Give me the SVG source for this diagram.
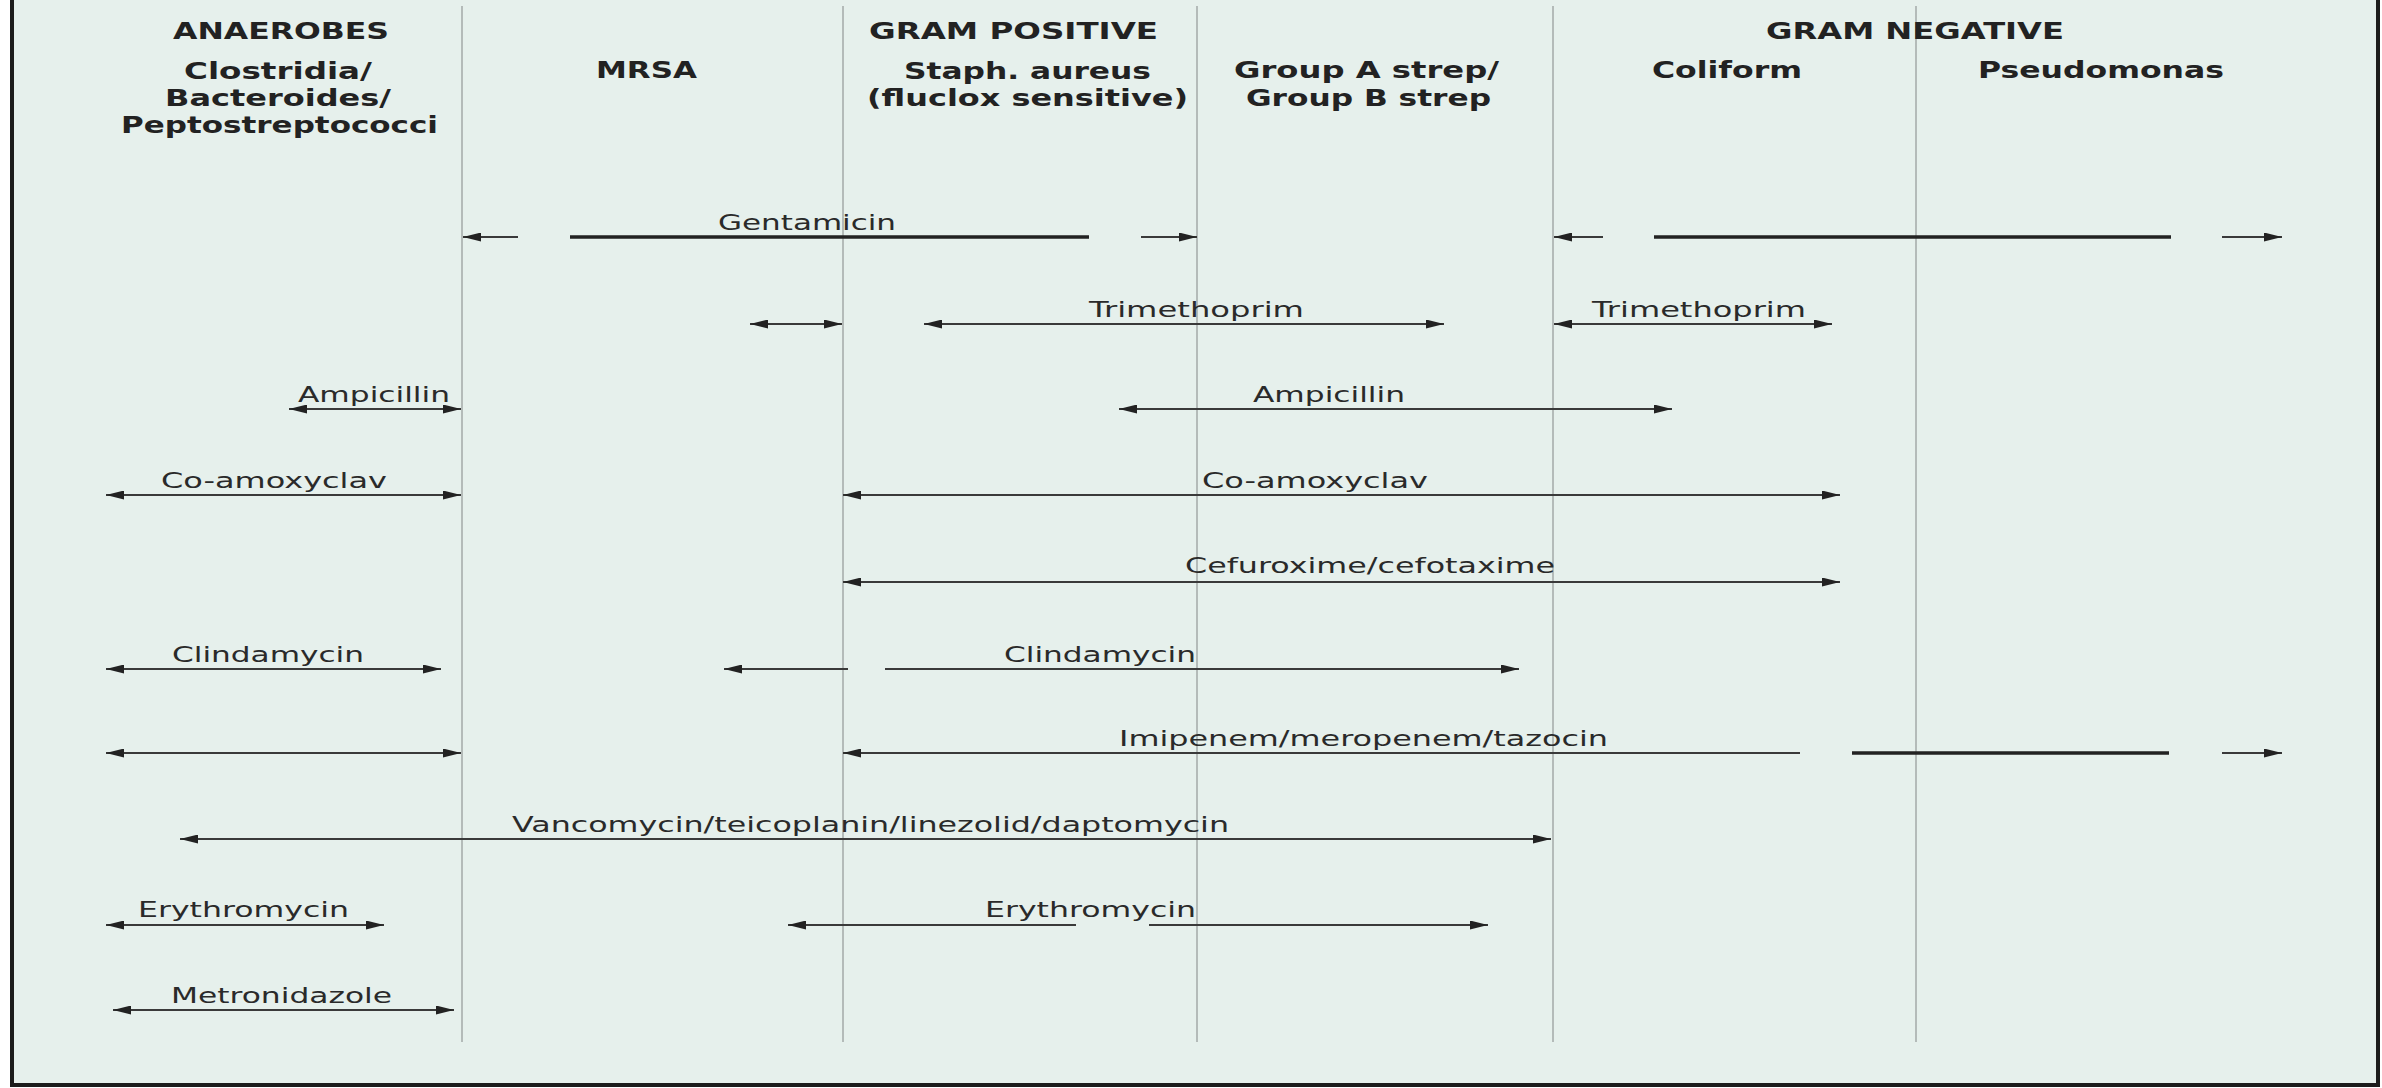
<svg xmlns="http://www.w3.org/2000/svg" width="2382" height="1088" viewBox="0 0 2382 1088">
<defs>
<marker id="ah" markerUnits="userSpaceOnUse" markerWidth="18" markerHeight="9" refX="18" refY="4.5" orient="auto-start-reverse" viewBox="0 0 18 9"><path d="M0,0 L18,4.5 L0,9 Z" fill="#222"/></marker>
</defs>
<style>
.bg{fill:#E6F0EC;stroke:#1c1c1c;stroke-width:4}
.grid{stroke:#a3aaa8;stroke-width:1.5}
.h{font-family:"DejaVu Sans",Verdana,sans-serif;font-weight:bold;font-size:23px;fill:#222}
.t{font-family:"DejaVu Sans",Verdana,sans-serif;font-size:22px;fill:#2a2a2a}
.ln{stroke:#3a3a3a;stroke-width:2;fill:none}
.thick{stroke:#222;stroke-width:3.5}
</style>
<rect x="0" y="0" width="2382" height="1088" fill="#ffffff"/>
<rect class="bg" x="12" y="-10" width="2366" height="1095"/>
<g id="gridlines">
<line class="grid" x1="462" y1="6" x2="462" y2="1042"/>
<line class="grid" x1="843" y1="6" x2="843" y2="1042"/>
<line class="grid" x1="1197" y1="6" x2="1197" y2="1042"/>
<line class="grid" x1="1553" y1="6" x2="1553" y2="1042"/>
<line class="grid" x1="1916" y1="6" x2="1916" y2="1042"/>
</g>
<g id="hdr-anaerobes">
<text class="h" x="173" y="39" textLength="216" lengthAdjust="spacingAndGlyphs">ANAEROBES</text>
<text class="h" x="184" y="79" textLength="188" lengthAdjust="spacingAndGlyphs">Clostridia/</text>
<text class="h" x="165" y="106" textLength="226" lengthAdjust="spacingAndGlyphs">Bacteroides/</text>
<text class="h" x="121" y="133" textLength="317" lengthAdjust="spacingAndGlyphs">Peptostreptococci</text>
</g>
<g id="hdr-mrsa">
<text class="h" x="596" y="78" textLength="101" lengthAdjust="spacingAndGlyphs">MRSA</text>
</g>
<g id="hdr-grampos">
<text class="h" x="869" y="39" textLength="289" lengthAdjust="spacingAndGlyphs">GRAM POSITIVE</text>
</g>
<g id="hdr-staph">
<text class="h" x="904" y="79" textLength="247" lengthAdjust="spacingAndGlyphs">Staph. aureus</text>
<text class="h" x="867" y="106" textLength="321" lengthAdjust="spacingAndGlyphs">(fluclox sensitive)</text>
</g>
<g id="hdr-strep">
<text class="h" x="1234" y="78" textLength="265" lengthAdjust="spacingAndGlyphs">Group A strep/</text>
<text class="h" x="1246" y="106" textLength="245" lengthAdjust="spacingAndGlyphs">Group B strep</text>
</g>
<g id="hdr-gramneg">
<text class="h" x="1766" y="39" textLength="298" lengthAdjust="spacingAndGlyphs">GRAM NEGATIVE</text>
</g>
<g id="hdr-coliform">
<text class="h" x="1652" y="78" textLength="150" lengthAdjust="spacingAndGlyphs">Coliform</text>
</g>
<g id="hdr-pseudomonas">
<text class="h" x="1978" y="78" textLength="246" lengthAdjust="spacingAndGlyphs">Pseudomonas</text>
</g>
<g id="connectors">
<line class="ln" x1="518" y1="237" x2="463" y2="237" marker-end="url(#ah)"/>
<line class="thick" x1="570" y1="237" x2="1089" y2="237"/>
<line class="ln" x1="1141" y1="237" x2="1197" y2="237" marker-end="url(#ah)"/>
<line class="ln" x1="1603" y1="237" x2="1554" y2="237" marker-end="url(#ah)"/>
<line class="thick" x1="1654" y1="237" x2="2171" y2="237"/>
<line class="ln" x1="2222" y1="237" x2="2282" y2="237" marker-end="url(#ah)"/>
<line class="ln" x1="750" y1="324" x2="842" y2="324" marker-start="url(#ah)" marker-end="url(#ah)"/>
<line class="ln" x1="924" y1="324" x2="1444" y2="324" marker-start="url(#ah)" marker-end="url(#ah)"/>
<line class="ln" x1="1554" y1="324" x2="1832" y2="324" marker-start="url(#ah)" marker-end="url(#ah)"/>
<line class="ln" x1="289" y1="409" x2="461" y2="409" marker-start="url(#ah)" marker-end="url(#ah)"/>
<line class="ln" x1="1119" y1="409" x2="1672" y2="409" marker-start="url(#ah)" marker-end="url(#ah)"/>
<line class="ln" x1="106" y1="495" x2="461" y2="495" marker-start="url(#ah)" marker-end="url(#ah)"/>
<line class="ln" x1="843" y1="495" x2="1840" y2="495" marker-start="url(#ah)" marker-end="url(#ah)"/>
<line class="ln" x1="843" y1="582" x2="1840" y2="582" marker-start="url(#ah)" marker-end="url(#ah)"/>
<line class="ln" x1="106" y1="669" x2="441" y2="669" marker-start="url(#ah)" marker-end="url(#ah)"/>
<line class="ln" x1="848" y1="669" x2="724" y2="669" marker-end="url(#ah)"/>
<line class="ln" x1="885" y1="669" x2="1519" y2="669" marker-end="url(#ah)"/>
<line class="ln" x1="106" y1="753" x2="461" y2="753" marker-start="url(#ah)" marker-end="url(#ah)"/>
<line class="ln" x1="1800" y1="753" x2="843" y2="753" marker-end="url(#ah)"/>
<line class="thick" x1="1852" y1="753" x2="2169" y2="753"/>
<line class="ln" x1="2222" y1="753" x2="2282" y2="753" marker-end="url(#ah)"/>
<line class="ln" x1="180" y1="839" x2="1551" y2="839" marker-start="url(#ah)" marker-end="url(#ah)"/>
<line class="ln" x1="106" y1="925" x2="384" y2="925" marker-start="url(#ah)" marker-end="url(#ah)"/>
<line class="ln" x1="1076" y1="925" x2="788" y2="925" marker-end="url(#ah)"/>
<line class="ln" x1="1149" y1="925" x2="1488" y2="925" marker-end="url(#ah)"/>
<line class="ln" x1="113" y1="1010" x2="454" y2="1010" marker-start="url(#ah)" marker-end="url(#ah)"/>
</g>
<g id="lbl-gentamicin"><text class="t" x="718" y="230" textLength="178" lengthAdjust="spacingAndGlyphs">Gentamicin</text></g>
<g id="lbl-trimethoprim-1"><text class="t" x="1089" y="317" textLength="215" lengthAdjust="spacingAndGlyphs">Trimethoprim</text></g>
<g id="lbl-trimethoprim-2"><text class="t" x="1592" y="317" textLength="214" lengthAdjust="spacingAndGlyphs">Trimethoprim</text></g>
<g id="lbl-ampicillin-1"><text class="t" x="298" y="402" textLength="152" lengthAdjust="spacingAndGlyphs">Ampicillin</text></g>
<g id="lbl-ampicillin-2"><text class="t" x="1253" y="402" textLength="152" lengthAdjust="spacingAndGlyphs">Ampicillin</text></g>
<g id="lbl-coamoxyclav-1"><text class="t" x="161" y="488" textLength="226" lengthAdjust="spacingAndGlyphs">Co-amoxyclav</text></g>
<g id="lbl-coamoxyclav-2"><text class="t" x="1202" y="488" textLength="226" lengthAdjust="spacingAndGlyphs">Co-amoxyclav</text></g>
<g id="lbl-cefuroxime"><text class="t" x="1185" y="573" textLength="370" lengthAdjust="spacingAndGlyphs">Cefuroxime/cefotaxime</text></g>
<g id="lbl-clindamycin-1"><text class="t" x="172" y="662" textLength="192" lengthAdjust="spacingAndGlyphs">Clindamycin</text></g>
<g id="lbl-clindamycin-2"><text class="t" x="1004" y="662" textLength="192" lengthAdjust="spacingAndGlyphs">Clindamycin</text></g>
<g id="lbl-imipenem"><text class="t" x="1119" y="746" textLength="489" lengthAdjust="spacingAndGlyphs">Imipenem/meropenem/tazocin</text></g>
<g id="lbl-vancomycin"><text class="t" x="512" y="832" textLength="717" lengthAdjust="spacingAndGlyphs">Vancomycin/teicoplanin/linezolid/daptomycin</text></g>
<g id="lbl-erythromycin-1"><text class="t" x="138" y="917" textLength="211" lengthAdjust="spacingAndGlyphs">Erythromycin</text></g>
<g id="lbl-erythromycin-2"><text class="t" x="985" y="917" textLength="211" lengthAdjust="spacingAndGlyphs">Erythromycin</text></g>
<g id="lbl-metronidazole"><text class="t" x="171" y="1003" textLength="221" lengthAdjust="spacingAndGlyphs">Metronidazole</text></g>
</svg>
